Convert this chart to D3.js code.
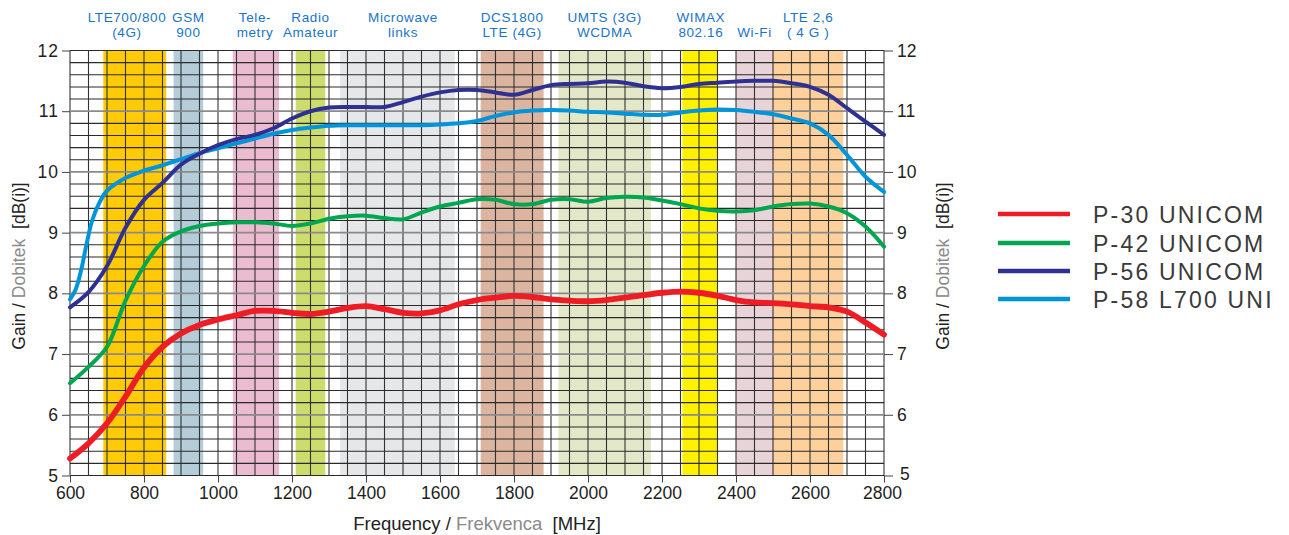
<!DOCTYPE html>
<html lang="en">
<head>
<meta charset="UTF-8" />
<title>Gain / Dobitek</title>
<script src="https://d3js.org/d3.v7.min.js"></script>
<style>
  body { margin: 0; background: #fff; }
  svg { display: block; font-family: "Liberation Sans", Arial, sans-serif; }
</style>
</head>
<body>
<svg></svg>
<script>
// frequencies (MHz) where the curves were read
const freqs = [600, 650, 700, 750, 800, 850, 900, 950, 1000, 1050,
  1100, 1150, 1200, 1250, 1300, 1350, 1400, 1450, 1500, 1550,
  1600, 1650, 1700, 1750, 1800, 1850, 1900, 1950, 2000, 2050,
  2100, 2150, 2200, 2250, 2300, 2350, 2400, 2450, 2500, 2550,
  2600, 2650, 2700, 2750, 2800];

const p30 = [5.28, 5.53, 5.86, 6.30, 6.78, 7.12, 7.34, 7.48, 7.57, 7.64,
  7.71, 7.71, 7.68, 7.66, 7.70, 7.76, 7.79, 7.74, 7.68, 7.67,
  7.72, 7.82, 7.89, 7.93, 7.96, 7.94, 7.90, 7.88, 7.87, 7.89,
  7.93, 7.97, 8.01, 8.03, 8.01, 7.96, 7.89, 7.85, 7.84, 7.82,
  7.79, 7.77, 7.70, 7.52, 7.32];

const p42 = [6.52, 6.79, 7.12, 7.88, 8.45, 8.85, 9.02, 9.11, 9.15, 9.17,
  9.17, 9.15, 9.11, 9.15, 9.23, 9.27, 9.28, 9.24, 9.22, 9.33,
  9.43, 9.49, 9.55, 9.54, 9.47, 9.47, 9.54, 9.55, 9.51, 9.57,
  9.59, 9.58, 9.53, 9.47, 9.40, 9.36, 9.35, 9.37, 9.43, 9.47,
  9.48, 9.43, 9.32, 9.10, 8.77];

const p56 = [7.77, 8.02, 8.45, 9.08, 9.54, 9.82, 10.12, 10.30, 10.44, 10.54,
  10.61, 10.72, 10.88, 11.00, 11.06, 11.07, 11.07, 11.07, 11.15, 11.24,
  11.31, 11.35, 11.35, 11.31, 11.27, 11.35, 11.43, 11.45, 11.46, 11.49,
  11.47, 11.41, 11.38, 11.40, 11.45, 11.47, 11.49, 11.50, 11.50, 11.46,
  11.40, 11.27, 11.05, 10.83, 10.61];

// P-58 climbs very fast near 600 MHz, so it was read more densely there
const freqsP58 = [600, 615, 630, 645, 660, 680, 700, 750, 800, 850, 900, 950, 1000, 1050,
  1100, 1150, 1200, 1250, 1300, 1350, 1400, 1450, 1500, 1550,
  1600, 1650, 1700, 1750, 1800, 1850, 1900, 1950, 2000, 2050,
  2100, 2150, 2200, 2250, 2300, 2350, 2400, 2450, 2500, 2550,
  2600, 2650, 2700, 2750, 2800];
const p58 = [7.90, 8.06, 8.38, 8.82, 9.20, 9.50, 9.69, 9.90, 10.02, 10.11, 10.21, 10.31, 10.39, 10.47,
  10.55, 10.63, 10.69, 10.73, 10.76, 10.77, 10.77, 10.77, 10.77, 10.77,
  10.78, 10.80, 10.84, 10.92, 10.98, 11.01, 11.02, 11.01, 10.99, 10.98,
  10.96, 10.94, 10.94, 10.98, 11.01, 11.03, 11.02, 10.99, 10.95, 10.88,
  10.80, 10.61, 10.28, 9.92, 9.67];

const seriesNames = ['P-30 UNICOM', 'P-42 UNICOM', 'P-56 UNICOM', 'P-58 L700 UNI'];
const seriesColors = ['#ee1c25', '#00a650', '#2e3192', '#0095da'];

// frequency bands
const bandLabels = [['LTE700/800', '(4G)'], ['GSM', '900'], ['Tele-', 'metry'], ['Radio', 'Amateur'],
  ['Microwave', 'links'], ['DCS1800', 'LTE (4G)'], ['UMTS (3G)', 'WCDMA'], ['WIMAX', '802.16'],
  ['', 'Wi-Fi'], ['LTE 2,6', '( 4 G )']];
const bandFrom = [690, 880, 1040, 1210, 1330, 1710, 1920, 2255, 2400, 2500];
const bandTo = [860, 960, 1165, 1290, 1640, 1880, 2170, 2350, 2500, 2690];
const bandColors = ['#ffca08', '#b4cdd8', '#ebbbcf', '#ccdd6e', '#e6e7e9', '#dbb5a0', '#e3e8c9', '#fff100', '#e8d3d9', '#fdd09c'];
const labelAt = [754, 920, 1100, 1250, 1500, 1795, 2045, 2305, 2450, 2595];

const xTicks = [600, 800, 1000, 1200, 1400, 1600, 1800, 2000, 2200, 2400, 2600, 2800];
const yTicks = [5, 6, 7, 8, 9, 10, 11, 12];

const W = 1289, H = 535;
const svg = d3.select('svg').attr('width', W).attr('height', H);

const x = d3.scaleLinear().domain([600, 2800]).range([70, 884]);
const y = d3.scaleLinear().domain([5, 12]).range([475.5, 50.5]);

// bands
svg.append('g')
  .selectAll('rect')
  .data(bandColors)
  .join('rect')
  .attr('x', (d, i) => x(bandFrom[i]))
  .attr('width', (d, i) => x(bandTo[i]) - x(bandFrom[i]))
  .attr('y', y(12))
  .attr('height', y(5) - y(12))
  .attr('fill', d => d);

// band labels
const lab = svg.append('g')
  .attr('font-size', 13.5)
  .attr('letter-spacing', 0.6)
  .attr('fill', '#1a74c6')
  .attr('text-anchor', 'middle');
bandLabels.forEach((l, i) => {
  lab.append('text').attr('x', x(labelAt[i])).attr('y', 21.5).text(l[0]);
  lab.append('text').attr('x', x(labelAt[i])).attr('y', 36.5).text(l[1]);
});

// grid
const grid = svg.append('g');
grid.selectAll('.vg')
  .data(x.ticks(44))
  .join('line')
  .attr('class', 'vg')
  .attr('x1', d => x(d)).attr('x2', d => x(d))
  .attr('y1', y(12)).attr('y2', y(5))
  .attr('stroke', '#333')
  .attr('stroke-width', 1.1);
grid.selectAll('.hg')
  .data(y.ticks(28))
  .join('line')
  .attr('class', 'hg')
  .attr('x1', x(600)).attr('x2', x(2800))
  .attr('y1', d => y(d)).attr('y2', d => y(d))
  .attr('stroke', d => (Number.isInteger(d) && d !== 12 && d !== 5) ? '#8a8a8a' : '#2a2a2a')
  .attr('stroke-width', d => (Number.isInteger(d) && d !== 12 && d !== 5) ? 1.7 : 1.1);

// axes
function styleAxis(g) {
  g.select('.domain').remove();
  g.selectAll('.tick line').attr('stroke', '#444');
  g.selectAll('.tick text').attr('fill', '#1e1e1e').attr('font-size', 17.5);
}
svg.append('g')
  .attr('transform', 'translate(' + x(600) + ',0)')
  .call(d3.axisLeft(y).tickValues(yTicks).tickFormat(d3.format('d')).tickSize(8).tickPadding(3))
  .call(styleAxis)
  .call(g => g.selectAll('.tick text').attr('letter-spacing', 1));
svg.append('g')
  .attr('transform', 'translate(' + x(2800) + ',0)')
  .call(d3.axisRight(y).tickValues(yTicks).tickFormat(d3.format('d')).tickSize(9).tickPadding(4))
  .call(styleAxis)
  .call(g => g.selectAll('.tick text').filter(d => d === 5).attr('dx', 3).attr('dy', '0.2em'));
svg.append('g')
  .attr('transform', 'translate(0,' + y(5) + ')')
  .call(d3.axisBottom(x).tickValues(xTicks).tickFormat(d3.format('d')).tickSize(7).tickPadding(4))
  .call(styleAxis)
  .call(g => g.selectAll('.tick text').filter(d => d === 2800).attr('dx', -2));

// curves
const line = d3.line()
  .x(d => x(d[0]))
  .y(d => y(d[1]))
  .curve(d3.curveCatmullRom.alpha(0.5));

const series = [
  { f: freqs, v: p30, w: 5.8 },
  { f: freqs, v: p42, w: 4 },
  { f: freqsP58, v: p58, w: 4 },
  { f: freqs, v: p56, w: 4 }
];
const colorOf = [seriesColors[0], seriesColors[1], seriesColors[3], seriesColors[2]];
svg.append('g')
  .selectAll('path')
  .data(series)
  .join('path')
  .attr('d', s => line(s.f.map((f, i) => [f, s.v[i]])))
  .attr('fill', 'none')
  .attr('stroke', (s, i) => colorOf[i])
  .attr('stroke-width', s => s.w)
  .attr('stroke-linecap', 'round');

// axis titles
function title(t, grey, rest) {
  t.append('tspan').attr('fill', '#222').text('Gain / ');
  t.append('tspan').attr('fill', '#8a8a8a').text(grey);
  t.append('tspan').attr('fill', '#222').attr('dx', 5).text(rest);
}
svg.append('text')
  .attr('transform', 'translate(25,266) rotate(-90)')
  .attr('text-anchor', 'middle')
  .attr('font-size', 17.5)
  .call(t => title(t, 'Dobitek', ' [dB(i)]'));
svg.append('text')
  .attr('transform', 'translate(949,266) rotate(-90)')
  .attr('text-anchor', 'middle')
  .attr('font-size', 17.5)
  .call(t => title(t, 'Dobitek', ' [dB(i)]'));

const xt = svg.append('text')
  .attr('x', 477).attr('y', 530)
  .attr('text-anchor', 'middle')
  .attr('font-size', 18.5);
xt.append('tspan').attr('fill', '#222').text('Frequency / ');
xt.append('tspan').attr('fill', '#8a8a8a').text('Frekvenca');
xt.append('tspan').attr('fill', '#222').attr('dx', 5).text(' [MHz]');

// legend
const legendY = [214, 243, 271, 299];
const leg = svg.append('g');
seriesNames.forEach((n, i) => {
  leg.append('line')
    .attr('x1', 998).attr('x2', 1070)
    .attr('y1', legendY[i]).attr('y2', legendY[i])
    .attr('stroke', seriesColors[i])
    .attr('stroke-width', 4.5);
  leg.append('text')
    .attr('x', 1093).attr('y', legendY[i] + 8.5)
    .attr('font-size', 23)
    .attr('letter-spacing', 2.2)
    .attr('fill', '#3a3a3a')
    .text(n);
});
</script>
</body>
</html>
